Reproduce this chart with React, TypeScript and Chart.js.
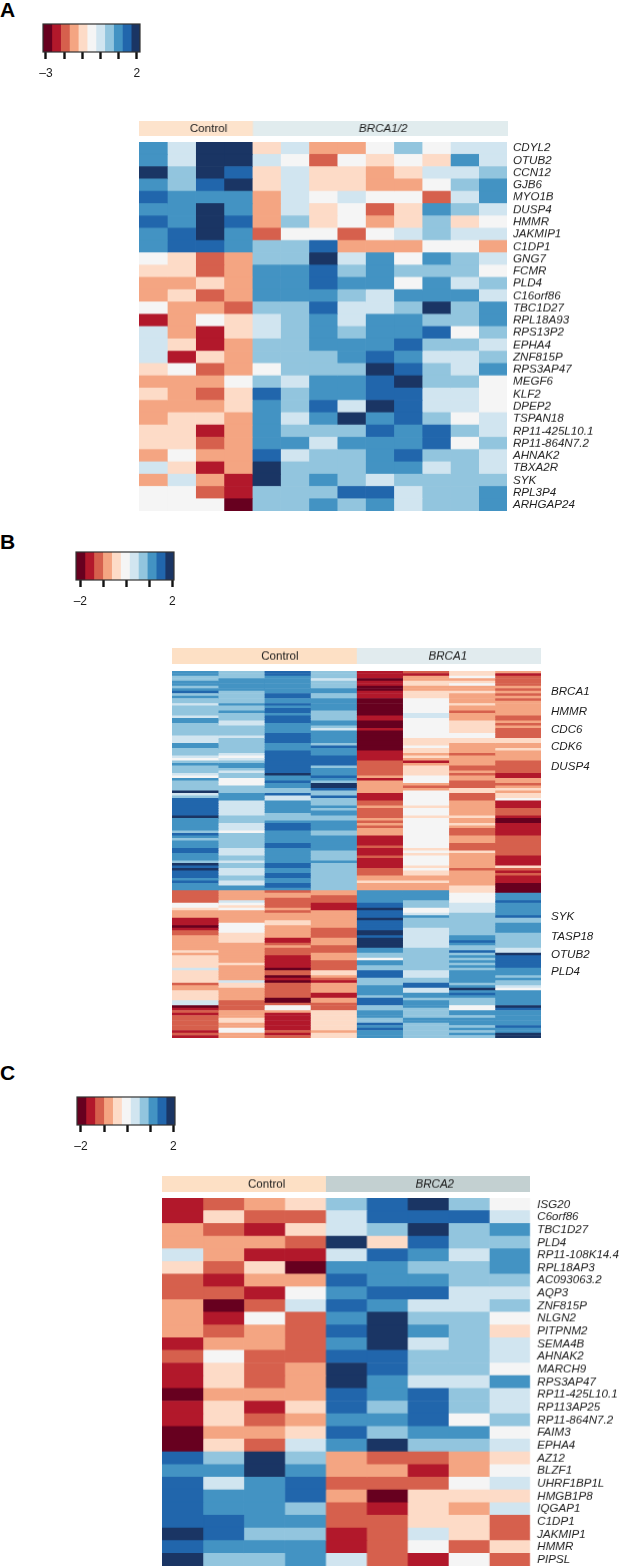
import React, { useEffect, useRef } from "react";
import { Chart, registerables } from "chart.js";

Chart.register(...registerables);

// Colour bins of the key, low to high (RdBu, 11 steps)
const binColors = ["#67001F", "#B2182B", "#D6604D", "#F4A582", "#FDDBC7", "#F5F5F5", "#D1E5F0", "#92C5DE", "#4393C3", "#2166AC", "#1A3564"];
const FONT = '"Liberation Sans", Arial, sans-serif';
const INK = "#1c1c1c";

// Panel A: gene labels and binned levels per gene (4 control + 9 BRCA1/2 samples)
const genesA = ["CDYL2", "OTUB2", "CCN12", "GJB6", "MYO1B", "DUSP4", "HMMR", "JAKMIP1", "C1DP1", "GNG7", "FCMR", "PLD4", "C16orf86", "TBC1D27", "RPL18A93", "RPS13P2", "EPHA4", "ZNF815P", "RPS3AP47", "MEGF6", "KLF2", "DPEP2", "TSPAN18", "RP11-425L10.1", "RP11-864N7.2", "AHNAK2", "TBXA2R", "SYK", "RPL3P4", "ARHGAP24"];
const levelsA = [
  [8, 6, 10, 10, 4, 6, 3, 3, 5, 7, 5, 6, 6],
  [8, 6, 10, 10, 6, 5, 2, 5, 4, 5, 4, 8, 6],
  [10, 7, 10, 9, 4, 6, 4, 4, 3, 4, 6, 6, 7],
  [8, 7, 9, 10, 4, 6, 4, 4, 3, 3, 5, 7, 8],
  [9, 8, 8, 8, 3, 6, 5, 6, 5, 5, 2, 6, 8],
  [8, 8, 10, 8, 3, 6, 4, 5, 2, 4, 8, 7, 6],
  [9, 8, 10, 9, 3, 7, 4, 5, 3, 4, 7, 4, 5],
  [8, 9, 10, 8, 2, 5, 5, 2, 5, 6, 7, 6, 6],
  [8, 9, 9, 8, 7, 7, 9, 3, 3, 3, 5, 5, 3],
  [5, 4, 2, 3, 7, 7, 10, 6, 8, 5, 8, 7, 6],
  [4, 4, 2, 3, 8, 8, 9, 7, 8, 7, 7, 7, 5],
  [3, 3, 4, 3, 8, 8, 9, 8, 8, 5, 8, 6, 7],
  [3, 4, 2, 3, 8, 8, 8, 7, 6, 8, 8, 8, 6],
  [5, 3, 3, 2, 7, 7, 9, 6, 6, 7, 10, 7, 8],
  [1, 3, 5, 4, 6, 7, 8, 6, 8, 8, 7, 7, 8],
  [6, 3, 1, 4, 6, 7, 8, 7, 8, 8, 9, 5, 7],
  [6, 4, 1, 3, 7, 7, 8, 8, 8, 9, 7, 7, 6],
  [6, 1, 4, 3, 7, 7, 7, 8, 9, 8, 6, 6, 7],
  [4, 5, 2, 3, 5, 7, 7, 7, 10, 9, 7, 6, 8],
  [3, 3, 3, 5, 7, 6, 8, 8, 9, 10, 7, 7, 5],
  [4, 3, 2, 4, 9, 7, 8, 8, 9, 9, 6, 6, 5],
  [3, 3, 3, 4, 8, 7, 9, 6, 10, 9, 6, 6, 5],
  [3, 4, 4, 3, 8, 6, 8, 10, 8, 9, 7, 5, 6],
  [4, 4, 1, 3, 8, 7, 7, 7, 9, 8, 9, 7, 6],
  [4, 4, 2, 3, 8, 8, 6, 8, 8, 8, 9, 5, 7],
  [3, 5, 3, 3, 9, 6, 7, 7, 8, 9, 7, 7, 6],
  [6, 4, 1, 3, 10, 7, 7, 7, 8, 8, 6, 7, 6],
  [3, 6, 3, 1, 10, 7, 8, 7, 6, 7, 7, 7, 7],
  [5, 5, 2, 1, 7, 7, 7, 9, 9, 6, 7, 7, 8],
  [5, 5, 5, 0, 7, 7, 8, 7, 8, 6, 7, 7, 8],
];

// Panel B: 147 genes; binned levels per sample, top to bottom
const controlB1 = [
  8, 8, 7, 7, 8, 8, 7, 8, 9, 7,
  8, 7, 7, 6, 7, 7, 7, 7, 6, 8,
  8, 7, 7, 7, 7, 7, 6, 6, 6, 8,
  8, 7, 7, 7, 6, 5, 7, 8, 7, 7,
  7, 6, 5, 8, 7, 7, 7, 7, 10, 6,
  7, 9, 9, 9, 9, 9, 9, 9, 10, 8,
  8, 8, 8, 8, 7, 9, 8, 7, 8, 8,
  8, 9, 9, 8, 8, 8, 7, 10, 9, 10,
  9, 9, 9, 8, 9, 8, 8, 8, 2, 2,
  2, 2, 2, 5, 5, 4, 3, 3, 3, 1,
  1, 1, 0, 1, 2, 2, 3, 3, 3, 3,
  3, 3, 4, 3, 4, 4, 4, 4, 4, 6,
  4, 4, 4, 4, 4, 2, 3, 3, 4, 4,
  4, 4, 6, 6, 0, 1, 2, 1, 2, 2,
  2, 2, 2, 2, 1, 2, 1,
];
const controlB2 = [
  7, 7, 7, 8, 8, 8, 8, 8, 7, 7,
  7, 7, 7, 8, 7, 7, 8, 7, 7, 7,
  6, 6, 7, 7, 7, 7, 6, 7, 7, 7,
  7, 7, 7, 6, 5, 6, 7, 8, 8, 7,
  6, 7, 7, 5, 5, 5, 7, 7, 7, 8,
  8, 8, 6, 6, 6, 6, 6, 6, 7, 7,
  7, 6, 6, 6, 5, 7, 7, 7, 7, 7,
  7, 6, 6, 6, 7, 7, 6, 7, 7, 6,
  6, 6, 7, 7, 6, 6, 8, 8, 3, 3,
  3, 3, 6, 5, 4, 5, 3, 3, 3, 3,
  3, 5, 5, 5, 5, 4, 4, 4, 4, 3,
  3, 3, 3, 3, 3, 3, 3, 4, 3, 3,
  3, 3, 3, 3, 6, 4, 4, 3, 3, 3,
  3, 3, 2, 2, 2, 2, 3, 3, 3, 4,
  4, 3, 3, 5, 5, 3, 3,
];
const controlB3 = [
  9, 9, 8, 8, 8, 8, 8, 8, 8, 9,
  9, 8, 8, 9, 8, 9, 9, 8, 9, 9,
  9, 8, 8, 8, 8, 9, 9, 9, 9, 8,
  8, 8, 9, 9, 9, 9, 9, 9, 9, 9,
  9, 10, 8, 8, 9, 8, 8, 7, 7, 9,
  6, 6, 8, 8, 8, 8, 8, 7, 7, 7,
  8, 9, 9, 9, 8, 8, 8, 8, 8, 9,
  9, 8, 8, 8, 8, 8, 8, 9, 9, 8,
  8, 9, 9, 8, 8, 9, 9, 8, 2, 3,
  3, 2, 2, 2, 2, 3, 2, 3, 3, 3,
  4, 4, 3, 3, 3, 3, 3, 1, 1, 2,
  3, 2, 2, 2, 1, 1, 1, 1, 1, 0,
  2, 2, 0, 1, 0, 2, 2, 2, 2, 2,
  2, 0, 0, 2, 5, 5, 3, 1, 1, 1,
  1, 1, 1, 1, 2, 1, 2,
];
const controlB4 = [
  7, 7, 7, 6, 7, 7, 7, 8, 8, 7,
  7, 8, 8, 8, 8, 8, 7, 7, 7, 7,
  8, 8, 7, 6, 8, 8, 8, 8, 8, 7,
  9, 8, 8, 8, 9, 9, 9, 9, 7, 8,
  8, 8, 9, 8, 7, 10, 10, 9, 7, 7,
  9, 7, 7, 7, 8, 7, 8, 8, 7, 7,
  8, 8, 8, 8, 7, 7, 8, 8, 8, 8,
  8, 8, 7, 7, 7, 7, 8, 7, 7, 7,
  7, 7, 7, 7, 7, 7, 7, 7, 3, 3,
  2, 2, 2, 1, 1, 1, 3, 3, 3, 3,
  3, 3, 3, 2, 2, 2, 2, 3, 3, 3,
  2, 2, 2, 3, 3, 3, 2, 2, 2, 2,
  4, 4, 3, 2, 1, 3, 3, 3, 3, 1,
  1, 3, 3, 2, 2, 2, 4, 4, 4, 4,
  4, 4, 4, 4, 3, 4, 4,
];
const brcaB1 = [
  1, 1, 1, 0, 1, 1, 0, 0, 1, 1,
  1, 0, 0, 0, 0, 0, 0, 0, 1, 1,
  0, 0, 0, 1, 0, 0, 0, 0, 0, 0,
  0, 0, 1, 1, 1, 1, 2, 2, 2, 2,
  2, 2, 3, 1, 3, 3, 3, 3, 3, 1,
  1, 1, 2, 2, 3, 2, 2, 2, 2, 3,
  2, 3, 2, 3, 3, 3, 1, 1, 1, 1,
  2, 1, 1, 1, 2, 1, 1, 1, 1, 2,
  2, 2, 3, 3, 4, 3, 3, 3, 8, 8,
  8, 8, 8, 9, 9, 10, 9, 9, 9, 10,
  9, 9, 9, 9, 10, 10, 9, 10, 10, 10,
  10, 8, 8, 7, 7, 5, 8, 8, 7, 7,
  9, 9, 9, 7, 7, 7, 8, 8, 8, 8,
  7, 9, 9, 9, 7, 7, 8, 8, 8, 7,
  7, 9, 8, 9, 8, 8, 8,
];
const brcaB2 = [
  2, 1, 3, 3, 4, 4, 3, 3, 4, 4,
  4, 5, 5, 5, 5, 5, 5, 6, 6, 5,
  5, 5, 5, 5, 5, 5, 5, 4, 4, 4,
  5, 4, 4, 3, 4, 3, 1, 3, 4, 4,
  4, 4, 5, 5, 5, 3, 2, 3, 5, 5,
  5, 5, 5, 5, 4, 5, 5, 5, 4, 5,
  5, 5, 5, 5, 5, 5, 5, 5, 5, 5,
  5, 4, 5, 4, 5, 5, 5, 5, 4, 5,
  4, 4, 3, 3, 4, 3, 3, 3, 8, 8,
  8, 8, 7, 7, 7, 5, 5, 6, 8, 7,
  7, 7, 7, 6, 6, 6, 6, 6, 6, 6,
  6, 7, 7, 7, 7, 7, 7, 7, 7, 7,
  6, 6, 6, 7, 7, 9, 9, 6, 6, 8,
  8, 7, 8, 8, 8, 7, 7, 7, 7, 8,
  8, 7, 7, 7, 7, 7, 7,
];
const brcaB3 = [
  4, 4, 5, 3, 4, 5, 3, 3, 4, 3,
  3, 3, 3, 4, 3, 3, 2, 3, 3, 3,
  4, 4, 4, 4, 4, 5, 5, 4, 4, 3,
  3, 3, 3, 2, 3, 3, 3, 3, 2, 2,
  3, 2, 3, 3, 2, 2, 2, 4, 4, 2,
  2, 2, 3, 3, 3, 3, 3, 3, 4, 3,
  3, 4, 3, 2, 2, 2, 3, 3, 3, 2,
  2, 2, 4, 3, 3, 3, 3, 3, 3, 2,
  3, 3, 3, 3, 3, 3, 4, 4, 4, 5,
  5, 5, 5, 6, 6, 6, 6, 7, 7, 7,
  7, 7, 7, 7, 7, 7, 8, 8, 9, 8,
  7, 7, 9, 7, 8, 7, 8, 7, 8, 7,
  8, 8, 8, 8, 8, 7, 8, 10, 8, 9,
  8, 7, 7, 7, 5, 5, 8, 8, 7, 8,
  8, 8, 7, 8, 7, 8, 7,
];
const brcaB4 = [
  3, 1, 2, 2, 2, 2, 3, 2, 3, 2,
  3, 2, 3, 3, 3, 3, 3, 3, 2, 2,
  3, 2, 3, 2, 2, 2, 2, 4, 4, 3,
  3, 4, 3, 3, 3, 3, 2, 2, 2, 2,
  2, 1, 1, 3, 3, 2, 3, 4, 3, 4,
  4, 5, 1, 1, 1, 2, 2, 2, 1, 0,
  0, 1, 1, 1, 1, 1, 2, 2, 2, 2,
  2, 2, 2, 2, 1, 1, 1, 1, 4, 2,
  1, 2, 1, 1, 1, 0, 0, 0, 0, 8,
  8, 8, 9, 8, 8, 8, 8, 8, 9, 7,
  7, 8, 8, 8, 8, 7, 7, 7, 7, 7,
  7, 6, 6, 10, 9, 9, 9, 9, 9, 8,
  8, 8, 7, 8, 7, 7, 6, 5, 8, 8,
  8, 8, 8, 8, 10, 9, 8, 8, 8, 8,
  8, 8, 9, 8, 8, 10, 10,
];
const samplesB = [controlB1, controlB2, controlB3, controlB4, brcaB1, brcaB2, brcaB3, brcaB4];
// Genes named in panel B, by row
const markedB: [number, string][] = [[8, "BRCA1"], [16, "HMMR"], [23, "CDC6"], [30, "CDK6"], [38, "DUSP4"], [98, "SYK"], [106, "TASP18"], [113, "OTUB2"], [120, "PLD4"]];

// Panel C: gene labels and binned levels per gene (4 control + 5 BRCA2 samples)
const genesC = ["ISG20", "C6orf86", "TBC1D27", "PLD4", "RP11-108K14.4", "RPL18AP3", "AC093063.2", "AQP3", "ZNF815P", "NLGN2", "PITPNM2", "SEMA4B", "AHNAK2", "MARCH9", "RPS3AP47", "RP11-425L10.1", "RP113AP25", "RP11-864N7.2", "FAIM3", "EPHA4", "AZ12", "BLZF1", "UHRF1BP1L", "HMGB1P8", "IQGAP1", "C1DP1", "JAKMIP1", "HMMR", "PIPSL"];
const levelsC = [
  [1, 2, 3, 4, 7, 9, 10, 7, 5],
  [1, 4, 2, 2, 6, 9, 9, 9, 6],
  [3, 2, 1, 4, 6, 7, 10, 7, 8],
  [3, 3, 3, 2, 10, 4, 9, 7, 7],
  [6, 3, 1, 1, 6, 9, 8, 6, 8],
  [4, 2, 4, 0, 8, 8, 7, 7, 8],
  [2, 1, 3, 3, 9, 8, 8, 7, 7],
  [2, 2, 1, 5, 8, 9, 9, 6, 6],
  [3, 0, 2, 6, 9, 8, 6, 6, 7],
  [3, 1, 5, 2, 8, 10, 7, 7, 5],
  [3, 2, 3, 2, 9, 10, 8, 7, 4],
  [1, 3, 3, 2, 8, 10, 6, 7, 6],
  [2, 5, 2, 2, 9, 9, 7, 7, 6],
  [1, 4, 2, 3, 10, 9, 7, 7, 5],
  [1, 4, 2, 3, 10, 8, 6, 6, 8],
  [0, 3, 3, 3, 9, 8, 9, 7, 6],
  [1, 4, 1, 4, 9, 7, 9, 7, 6],
  [1, 4, 2, 3, 8, 8, 9, 5, 7],
  [0, 3, 3, 4, 9, 7, 8, 8, 5],
  [0, 4, 2, 6, 8, 10, 7, 7, 6],
  [9, 7, 10, 7, 3, 2, 2, 3, 4],
  [8, 8, 10, 8, 3, 3, 1, 3, 5],
  [9, 6, 8, 9, 2, 2, 2, 5, 6],
  [9, 8, 8, 9, 3, 0, 4, 4, 4],
  [9, 8, 8, 7, 2, 1, 4, 3, 6],
  [9, 9, 8, 8, 2, 2, 4, 4, 2],
  [10, 9, 7, 7, 1, 2, 6, 4, 2],
  [9, 8, 8, 8, 1, 2, 5, 2, 4],
  [10, 7, 7, 8, 6, 2, 1, 5, 2],
];

const transpose = (rows: number[][]) => rows[0].map((_, c) => rows.map((r) => r[c]));

const baseOptions = {
  responsive: false,
  animation: false as const,
  events: [] as string[],
  plugins: { legend: { display: false }, tooltip: { enabled: false } },
  layout: { padding: 0 },
};

function heatConfig(samples: number[][], labels: string[], gap: number, labelWidth: number) {
  return {
    type: "bar",
    data: {
      labels,
      datasets: samples.map((col) => ({
        data: col.map(() => 1),
        backgroundColor: col.map((l) => binColors[l]),
        borderWidth: 0,
        barPercentage: 1,
        categoryPercentage: 1,
      })),
    },
    options: {
      ...baseOptions,
      indexAxis: "y",
      scales: {
        x: { type: "linear", stacked: true, min: 0, max: samples.length, display: false },
        y: {
          type: "category",
          stacked: true,
          offset: true,
          position: "right",
          grid: { display: false, drawTicks: false },
          border: { display: false },
          afterFit: (s: any) => { s.width = labelWidth; s.paddingTop = 0; s.paddingBottom = 0; },
          ticks: {
            autoSkip: false,
            padding: gap,
            color: INK,
            font: { family: FONT, size: 11.6, style: "italic" },
          },
        },
      },
    },
  };
}

function annotationConfig(groups: { name: string; n: number; color: string; italic: boolean; at: number }[]) {
  return {
    type: "bar",
    data: {
      labels: [""],
      datasets: groups.map((g) => ({
        label: g.name,
        data: [g.n],
        backgroundColor: g.color,
        borderWidth: 0,
        barPercentage: 1,
        categoryPercentage: 1,
      })),
    },
    options: {
      ...baseOptions,
      indexAxis: "y",
      scales: {
        x: { type: "linear", stacked: true, min: 0, max: groups.reduce((a, g) => a + g.n, 0), display: false },
        y: { stacked: true, display: false },
      },
    },
    plugins: [{
      id: "groupNames",
      afterDatasetsDraw(chart: any) {
        const ctx = chart.ctx;
        ctx.save();
        ctx.textAlign = "center";
        ctx.textBaseline = "middle";
        ctx.fillStyle = INK;
        groups.forEach((g) => {
          ctx.font = `${g.italic ? "italic " : ""}11.6px ${FONT}`;
          ctx.fillText(g.name, chart.scales.x.getPixelForValue(g.at), chart.height / 2 + 0.5);
        });
        ctx.restore();
      },
    }],
  };
}

function keyConfig(min: number, max: number, tickValues: number[], labelOf: Record<string, string>, axisHeight: number) {
  const step = (max - min) / binColors.length;
  return {
    type: "bar",
    data: {
      labels: [""],
      datasets: binColors.map((c, i) => ({
        data: [[min + i * step, min + (i + 1) * step]],
        backgroundColor: c,
        borderWidth: 0,
        grouped: false,
        barPercentage: 1,
        categoryPercentage: 1,
      })),
    },
    options: {
      ...baseOptions,
      indexAxis: "y",
      layout: { padding: { left: 12, right: 12, top: 2, bottom: 0 } },
      scales: {
        y: { display: false },
        x: {
          type: "linear",
          bounds: "data",
          min,
          max,
          afterBuildTicks: (s: any) => { s.ticks = tickValues.map((value) => ({ value })); },
          afterFit: (s: any) => { s.height = axisHeight; },
          border: { display: false },
          grid: { drawOnChartArea: false, drawTicks: true, tickLength: 7, tickWidth: 2.4, tickColor: "#111" },
          ticks: {
            autoSkip: false,
            maxRotation: 0,
            padding: 7,
            color: INK,
            font: { family: FONT, size: 12 },
            callback: (v: number) => labelOf[String(v)] ?? "",
          },
        },
      },
    },
    plugins: [{
      id: "keyFrame",
      afterDatasetsDraw(chart: any) {
        const { left, top, width, height } = chart.chartArea;
        chart.ctx.save();
        chart.ctx.strokeStyle = "#333";
        chart.ctx.lineWidth = 1.2;
        chart.ctx.strokeRect(left, top, width, height);
        chart.ctx.restore();
      },
    }],
  };
}

function Plot({ x, y, w, h, make }: { x: number; y: number; w: number; h: number; make: () => any }) {
  const ref = useRef<HTMLCanvasElement>(null);
  useEffect(() => {
    const chart = new Chart(ref.current as HTMLCanvasElement, make());
    return () => chart.destroy();
  }, []);
  return <canvas ref={ref} width={w} height={h} style={{ position: "absolute", left: x, top: y, width: w, height: h }} />;
}

const labelsB = samplesB[0].map((_, i) => markedB.find((m) => m[0] === i)?.[1] ?? "");
const ticks3 = [-3, -2, -1, 0, 1, 2];
const ticks2 = [-2, -1, 0, 1, 2];
const letter = (t: string, x: number, y: number) => (
  <div style={{ position: "absolute", left: x, top: y, font: `bold 21px/21px ${FONT}`, color: "#000" }}>{t}</div>
);

export default function App() {
  useEffect(() => { document.body.style.margin = "0"; }, []);
  return (
    <div style={{ position: "absolute", left: 0, top: 0, width: 620, height: 1566, overflow: "hidden", background: "#fff" }}>
      {letter("A", 0, -1)}
      {letter("B", 0, 531)}
      {letter("C", 0, 1062)}

      <Plot x={31} y={22} w={121} h={60} make={() => keyConfig(-3.165, 2.18, ticks3, { "-3": "–3", "2": "2" }, 30)} />
      <Plot x={139.3} y={120.7} w={368.4} h={15} make={() => annotationConfig([
        { name: "Control", n: 4, color: "#FDE3CC", italic: false, at: 2.45 },
        { name: "BRCA1/2", n: 9, color: "#E1ECEE", italic: true, at: 8.6 },
      ])} />
      <Plot x={139.3} y={142.3} w={468} h={368.7} make={() => heatConfig(transpose(levelsA), genesA, 6, 100)} />

      <Plot x={64} y={550} w={122} h={60} make={() => keyConfig(-2.19, 2.07, ticks2, { "-2": "–2", "2": "2" }, 30)} />
      <Plot x={172.3} y={648.3} w={369} h={15.7} make={() => annotationConfig([
        { name: "Control", n: 4, color: "#FDE0C5", italic: false, at: 2.34 },
        { name: "BRCA1", n: 4, color: "#E1EBEE", italic: true, at: 5.98 },
      ])} />
      <Plot x={172.3} y={670.7} w={429} h={367.6} make={() => heatConfig(samplesB, labelsB, 10, 60)} />

      <Plot x={65} y={1095} w={122} h={60} make={() => keyConfig(-2.17, 2.07, ticks2, { "-2": "–2", "2": "2" }, 30)} />
      <Plot x={162.3} y={1176} w={368} h={15.7} make={() => annotationConfig([
        { name: "Control", n: 4, color: "#FDE0C5", italic: false, at: 2.56 },
        { name: "BRCA2", n: 5, color: "#C3D0D1", italic: true, at: 6.67 },
      ])} />
      <Plot x={162.3} y={1198.3} w={457.7} h={367.6} make={() => heatConfig(transpose(levelsC), genesC, 7, 89.7)} />
    </div>
  );
}
